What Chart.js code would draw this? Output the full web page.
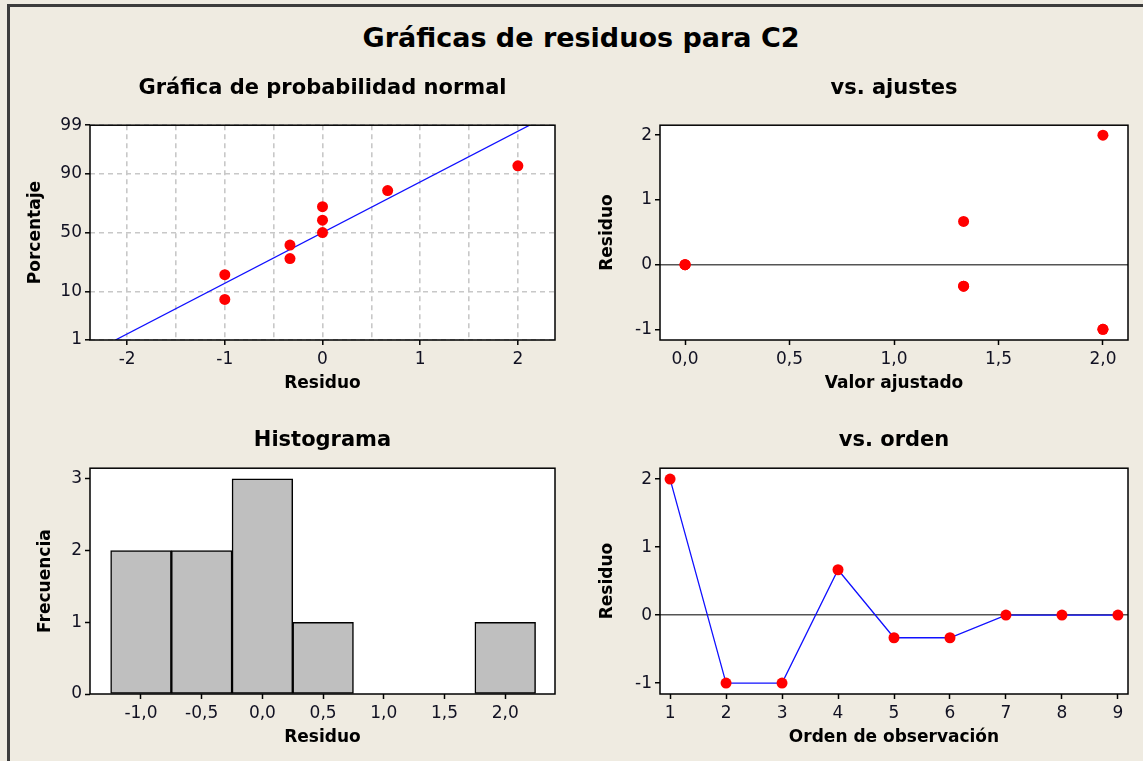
<!DOCTYPE html>
<html><head><meta charset="utf-8">
<script src="https://cdn.jsdelivr.net/npm/chart.js@4/dist/chart.umd.min.js"></script>
<style>
html,body{margin:0;padding:0;background:#EFEBE1;width:1143px;height:761px;overflow:hidden;position:relative;}
#frame{position:absolute;left:7px;top:4px;width:1200px;height:800px;border-left:3px solid #3c3c3c;border-top:3px solid #3c3c3c;}
#title{position:absolute;left:0;width:1162px;top:18px;text-align:center;font:bold 27px "DejaVu Sans",sans-serif;color:#000;line-height:40px;}
.box{position:absolute;}
canvas{display:block;}
</style></head>
<body>
<div id="frame"></div>
<div id="title">Gráficas de residuos para C2</div>
<div class="box" style="left:10px;top:60px"><canvas id="c1" width="560" height="345"></canvas></div>
<div class="box" style="left:580px;top:60px"><canvas id="c2" width="563" height="345"></canvas></div>
<div class="box" style="left:10px;top:415px"><canvas id="c3" width="560" height="346"></canvas></div>
<div class="box" style="left:580px;top:415px"><canvas id="c4" width="563" height="346"></canvas></div>
<script>
// ---------- data ----------
const observationOrder = [1, 2, 3, 4, 5, 6, 7, 8, 9];
const residuals = [2, -1, -1, 0.667, -0.333, -0.333, 0, 0, 0];
const fittedValues = [2, 2, 2, 1.333, 1.333, 1.333, 0, 0, 0];
const sortedResiduals = [-1, -1, -0.333, -0.333, 0, 0, 0, 0.667, 2];
const normalPercent = [7.4, 18.1, 28.7, 39.4, 50, 60.6, 71.3, 81.9, 92.6];
const fitLineResidual = [-2.12, 2.12];
const fitLinePercent = [1, 99];
const probYTicks = [1, 10, 50, 90, 99];
const probXTicks = [-2, -1.5, -1, -0.5, 0, 0.5, 1, 1.5, 2];
const fitXTicks = [0, 0.5, 1, 1.5, 2];
const residYTicks = [-1, 0, 1, 2];
const histBinCenters = [-1, -0.5, 0, 0.5, 1, 1.5, 2];
const histCounts = [2, 2, 3, 1, 0, 0, 1];
const histYTicks = [0, 1, 2, 3];

// ---------- helpers ----------
function normInv(p){
 const a=[-3.969683028665376e+01,2.209460984245205e+02,-2.759285104469687e+02,1.383577518672690e+02,-3.066479806614716e+01,2.506628277459239e+00];
 const b=[-5.447609879822406e+01,1.615858368580409e+02,-1.556989798598866e+02,6.680131188771972e+01,-1.328068155288572e+01];
 const c=[-7.784894002430293e-03,-3.223964580411365e-01,-2.400758277161838e+00,-2.549732539343734e+00,4.374664141464968e+00,2.938163982698783e+00];
 const d=[7.784695709041462e-03,3.224671290700398e-01,2.445134137142996e+00,3.754408661907416e+00];
 const pl=0.02425, ph=1-pl; let q,r;
 if(p<pl){q=Math.sqrt(-2*Math.log(p));return (((((c[0]*q+c[1])*q+c[2])*q+c[3])*q+c[4])*q+c[5])/((((d[0]*q+d[1])*q+d[2])*q+d[3])*q+1);}
 if(p>ph){q=Math.sqrt(-2*Math.log(1-p));return -(((((c[0]*q+c[1])*q+c[2])*q+c[3])*q+c[4])*q+c[5])/((((d[0]*q+d[1])*q+d[2])*q+d[3])*q+1);}
 q=p-0.5;r=q*q;return (((((a[0]*r+a[1])*r+a[2])*r+a[3])*r+a[4])*r+a[5])*q/(((((b[0]*r+b[1])*r+b[2])*r+b[3])*r+b[4])*r+1);
}
const FONT = '"DejaVu Sans",sans-serif';
const TICKCOL = '#111122';
const TICKSIZE = 17;
const comma = v => v.toFixed(1).replace('.', ',');
const setTicks = arr => scale => { scale.ticks = arr.map(v => ({value: v})); };

const framePlugin = {
  id: 'frameP',
  beforeDraw(chart){
    const {ctx, chartArea:a} = chart;
    ctx.save(); ctx.fillStyle = '#ffffff';
    ctx.fillRect(a.left, a.top, a.right-a.left, a.bottom-a.top); ctx.restore();
  },
  afterDraw(chart){
    const {ctx, chartArea:a} = chart;
    ctx.save(); ctx.strokeStyle = '#000'; ctx.lineWidth = 1.5;
    ctx.strokeRect(a.left, a.top, a.right-a.left, a.bottom-a.top); ctx.restore();
  }
};

function titleOpts(text, padBottom){
  return {display:true, text, fullSize:false, color:'#000',
    font:{family:FONT, size:21, weight:'bold', lineHeight:1.2},
    padding:{top:0, bottom:padBottom}};
}
function xAxis(o){
  return Object.assign({
    type:'linear', position:'bottom', offset:false,
    afterFit: s => { s.height = o.h; },
    afterBuildTicks: setTicks(o.ticks),
    border:{display:false},
    grid:{display:true, drawOnChartArea:false, drawTicks:true, tickLength:5, tickColor:'#000', tickWidth:1.5, offset:false},
    ticks:{autoSkip:false, maxRotation:0, padding:4, color:TICKCOL, font:{family:FONT, size:TICKSIZE}, callback:o.cb},
    title:{display:true, text:o.title, color:'#000', font:{family:FONT, size:17, weight:'bold', lineHeight:1.2}, padding:{top:0, bottom:o.tpb}}
  }, o.extra || {});
}
function yAxis(o){
  return Object.assign({
    type:'linear', position:'left',
    afterFit: s => { s.width = o.w; },
    afterBuildTicks: setTicks(o.ticks),
    border:{display:false},
    grid:{display:true, drawOnChartArea:false, drawTicks:true, tickLength:5, tickColor:'#000', tickWidth:1.5},
    ticks:{autoSkip:false, padding:3, color:TICKCOL, font:{family:FONT, size:TICKSIZE}, callback:o.cb},
    title:{display:true, text:o.title, color:'#000', font:{family:FONT, size:17, weight:'bold', lineHeight:1.2}, padding:{top:o.tpt, bottom:0}}
  }, o.extra || {});
}
const common = {responsive:false, animation:false, events:[]};
const PR = 5.5;

// ---------- 1: normal probability plot ----------
const zMin = normInv(0.01), zMax = normInv(0.99);
new Chart(document.getElementById('c1'), {
  type:'scatter',
  data:{datasets:[
    {data: sortedResiduals.map((r,i)=>({x:r, y:normInv(normalPercent[i]/100)})),
     pointRadius:PR, pointBackgroundColor:'#ff0000', pointBorderWidth:0, showLine:false},
    {data: fitLineResidual.map((r,i)=>({x:r, y:normInv(fitLinePercent[i]/100)})),
     showLine:true, pointRadius:0, borderColor:'#1010ff', borderWidth:1.3, fill:false}
  ]},
  options:Object.assign({}, common, {
    layout:{padding:{left:5, top:16, right:15, bottom:5}},
    plugins:{legend:{display:false}, tooltip:{enabled:false}, title:titleOpts('Gráfica de probabilidad normal', 24)},
    scales:{
      x: xAxis({h:60, tpb:6, ticks:probXTicks, title:'Residuo', cb:v => Number.isInteger(v) ? String(v) : '',
        extra:{min:-2.38, max:2.38,
          grid:{display:true, drawOnChartArea:true, drawTicks:true, tickLength:5, color:'#c8c8c8', lineWidth:1.6,
            tickColor: ctx => Number.isInteger(ctx.tick.value) ? '#000' : 'rgba(0,0,0,0)', tickWidth:1.5},
          border:{display:false, dash:[5,4]}}}),
      y: yAxis({w:75, tpt:10, ticks:probYTicks.map(p=>normInv(p/100)), title:'Porcentaje',
        cb:(v,i) => String(probYTicks[i]),
        extra:{min:zMin, max:zMax,
          grid:{display:true, drawOnChartArea:true, drawTicks:true, tickLength:5, color:'#c8c8c8', lineWidth:1.6, tickColor:'#000', tickWidth:1.5},
          border:{display:false, dash:[5,4]}}})
    }
  }),
  plugins:[framePlugin]
});

// ---------- 2: vs fits ----------
const zeroGrid = {display:true, drawOnChartArea:true, drawTicks:true, tickLength:5, tickColor:'#000', tickWidth:1.5,
  color: ctx => (ctx.tick && ctx.tick.value === 0) ? '#555555' : 'rgba(0,0,0,0)', lineWidth:1.5};
new Chart(document.getElementById('c2'), {
  type:'scatter',
  data:{datasets:[
    {data: fittedValues.map((f,i)=>({x:f, y:residuals[i]})),
     pointRadius:PR, pointBackgroundColor:'#ff0000', pointBorderWidth:0, showLine:false}
  ]},
  options:Object.assign({}, common, {
    layout:{padding:{left:5, top:16, right:15, bottom:5}},
    plugins:{legend:{display:false}, tooltip:{enabled:false}, title:titleOpts('vs. ajustes', 24)},
    scales:{
      x: xAxis({h:60, tpb:6, ticks:fitXTicks, title:'Valor ajustado', cb:v => comma(v), extra:{min:-0.12, max:2.12}}),
      y: yAxis({w:75, tpt:12, ticks:residYTicks, title:'Residuo', cb:v => String(v),
        extra:{min:-1.165, max:2.155, grid:zeroGrid}})
    }
  }),
  plugins:[framePlugin]
});

// ---------- 3: histogram ----------
new Chart(document.getElementById('c3'), {
  type:'bar',
  data:{datasets:[
    {data: histBinCenters.map((c,i)=>({x:c, y:histCounts[i]})),
     backgroundColor:'#bfbfbf', borderColor:'#000', borderWidth:1.5,
     barPercentage:1, categoryPercentage:1, borderSkipped:false}
  ]},
  options:Object.assign({}, common, {
    layout:{padding:{left:5, top:13, right:15, bottom:5}},
    plugins:{legend:{display:false}, tooltip:{enabled:false}, title:titleOpts('Histograma', 15)},
    scales:{
      x: xAxis({h:62, tpb:8, ticks:histBinCenters, title:'Residuo', cb:v => comma(v), extra:{min:-1.42, max:2.41}}),
      y: yAxis({w:75, tpt:20, ticks:histYTicks, title:'Frecuencia', cb:v => String(v), extra:{min:0, max:3.15}})
    }
  }),
  plugins:[framePlugin]
});

// ---------- 4: vs order ----------
new Chart(document.getElementById('c4'), {
  type:'line',
  data:{datasets:[
    {data: observationOrder.map((o,i)=>({x:o, y:residuals[i]})),
     borderColor:'#1010ff', borderWidth:1.3, tension:0, fill:false,
     pointRadius:PR, pointBackgroundColor:'#ff0000', pointBorderWidth:0}
  ]},
  options:Object.assign({}, common, {
    layout:{padding:{left:5, top:13, right:15, bottom:5}},
    plugins:{legend:{display:false}, tooltip:{enabled:false}, title:titleOpts('vs. orden', 15)},
    scales:{
      x: xAxis({h:62, tpb:8, ticks:observationOrder, title:'Orden de observación', cb:v => String(v), extra:{min:0.82, max:9.18}}),
      y: yAxis({w:75, tpt:12, ticks:residYTicks, title:'Residuo', cb:v => String(v),
        extra:{min:-1.16, max:2.16, grid:zeroGrid}})
    }
  }),
  plugins:[framePlugin]
});
</script>
</body></html>
